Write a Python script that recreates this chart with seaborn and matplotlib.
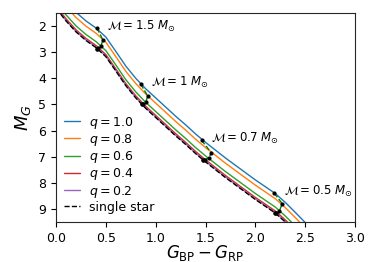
import matplotlib
matplotlib.use("Agg")
import matplotlib.pyplot as plt
import seaborn as sns
import pandas as pd

# colour grid (G_BP - G_RP)
color_grid = [0.0, 0.1, 0.2, 0.3, 0.4, 0.5, 0.6, 0.7, 0.8, 0.9, 1.0, 1.1, 1.2,
              1.3, 1.4, 1.5, 1.6, 1.7, 1.8, 1.9, 2.0, 2.1, 2.2, 2.3, 2.4, 2.5]

mg_q10 = [0.57, 1.05, 1.47, 1.80, 2.07, 2.42, 2.97, 3.53, 4.00, 4.40, 4.75, 5.10, 5.45,
          5.78, 6.13, 6.45, 6.75, 7.05, 7.33, 7.61, 7.89, 8.15, 8.41, 8.75, 9.13, 9.52]
mg_q08 = [0.77, 1.25, 1.67, 2.00, 2.27, 2.62, 3.17, 3.73, 4.20, 4.60, 4.95, 5.30, 5.65,
          5.98, 6.33, 6.65, 6.95, 7.25, 7.53, 7.81, 8.09, 8.35, 8.61, 8.95, 9.33, 9.72]
mg_q06 = [1.09, 1.57, 1.99, 2.32, 2.59, 2.94, 3.49, 4.05, 4.52, 4.92, 5.27, 5.62, 5.97,
          6.30, 6.65, 6.97, 7.27, 7.57, 7.85, 8.13, 8.41, 8.67, 8.93, 9.27, 9.65, 10.04]
mg_q04 = [1.24, 1.72, 2.14, 2.47, 2.74, 3.09, 3.64, 4.20, 4.67, 5.07, 5.42, 5.77, 6.12,
          6.45, 6.80, 7.12, 7.42, 7.72, 8.00, 8.28, 8.56, 8.82, 9.08, 9.42, 9.80, 10.19]
mg_q02 = [1.30, 1.78, 2.20, 2.53, 2.80, 3.15, 3.70, 4.26, 4.73, 5.13, 5.48, 5.83, 6.18,
          6.51, 6.86, 7.18, 7.48, 7.78, 8.06, 8.34, 8.62, 8.88, 9.14, 9.48, 9.86, 10.25]
mg_single = [1.32, 1.80, 2.22, 2.55, 2.82, 3.17, 3.72, 4.28, 4.75, 5.15, 5.50, 5.85, 6.20,
             6.53, 6.88, 7.20, 7.50, 7.80, 8.08, 8.36, 8.64, 8.90, 9.16, 9.50, 9.88, 10.27]

q_labels = ["$q = 1.0$", "$q = 0.8$", "$q = 0.6$", "$q = 0.4$", "$q = 0.2$"]

# constant-primary-mass loci (q = 1.0, 0.8, 0.6, 0.4, 0.2, single)
mass_labels = [r"$\mathcal{M} = 1.5\ M_{\odot}$", r"$\mathcal{M} = 1\ M_{\odot}$",
               r"$\mathcal{M} = 0.7\ M_{\odot}$", r"$\mathcal{M} = 0.5\ M_{\odot}$"]
locus_x_15 = [0.41, 0.47, 0.45, 0.42, 0.41, 0.41]
locus_y_15 = [2.07, 2.53, 2.76, 2.83, 2.86, 2.87]
locus_x_10 = [0.85, 0.92, 0.90, 0.87, 0.86, 0.86]
locus_y_10 = [4.22, 4.68, 4.91, 4.97, 4.99, 5.00]
locus_x_07 = [1.46, 1.56, 1.53, 1.49, 1.47, 1.47]
locus_y_07 = [6.37, 6.86, 7.06, 7.11, 7.13, 7.14]
locus_x_05 = [2.19, 2.27, 2.24, 2.21, 2.20, 2.20]
locus_y_05 = [8.40, 8.80, 9.10, 9.15, 9.16, 9.17]

sns.set_style("ticks")
plt.rcParams['font.family'] = ['DejaVu Sans']
plt.rcParams['mathtext.fontset'] = 'dejavusans'
plt.rcParams['text.color'] = 'black'
plt.rcParams['axes.labelcolor'] = 'black'
plt.rcParams['xtick.color'] = 'black'
plt.rcParams['ytick.color'] = 'black'

fig = plt.figure(figsize=(3.74, 2.62), dpi=100)
ax = fig.add_axes([0.150, 0.153, 0.799, 0.797])

palette = sns.color_palette("tab10")
series = [mg_q10, mg_q08, mg_q06, mg_q04, mg_q02]
for i, (ys, lab) in enumerate(zip(series, q_labels)):
    df = pd.DataFrame({"x": color_grid, "y": ys})
    sns.lineplot(data=df, x="x", y="y", sort=False, estimator=None, ax=ax,
                 color=palette[i], lw=1.0, label=lab)
df = pd.DataFrame({"x": color_grid, "y": mg_single})
sns.lineplot(data=df, x="x", y="y", sort=False, estimator=None, ax=ax,
             color="black", lw=1.0, linestyle="--", label="single star")

loci = [(locus_x_15, locus_y_15), (locus_x_10, locus_y_10),
        (locus_x_07, locus_y_07), (locus_x_05, locus_y_05)]
for (lx, ly), mlab in zip(loci, mass_labels):
    d = pd.DataFrame({"x": lx, "y": ly})
    sns.lineplot(data=d, x="x", y="y", sort=False, estimator=None, ax=ax,
                 color="green", lw=1.0, linestyle="--", legend=False)
    sns.scatterplot(data=d, x="x", y="y", ax=ax, color="black", s=9,
                    linewidth=0, zorder=5, legend=False)
    ax.text(lx[0] + 0.1, ly[0] - 0.05, mlab, fontsize=8.5, va="center", ha="left")

ax.set_xlim(0.0, 3.0)
ax.set_ylim(9.5, 1.5)
ax.set_xticks([0.0, 0.5, 1.0, 1.5, 2.0, 2.5, 3.0])
ax.set_yticks([2, 3, 4, 5, 6, 7, 8, 9])
ax.tick_params(labelsize=9, length=3.5, width=0.8)
ax.set_xlabel(r"$G_{\rm BP} - G_{\rm RP}$", fontsize=12, labelpad=-1)
ax.set_ylabel(r"$M_G$", fontsize=13, labelpad=4)
for s in ax.spines.values():
    s.set_visible(True)
    s.set_linewidth(0.8)
    s.set_color("#262626")

ax.legend(loc="lower left", frameon=False, fontsize=9, handlelength=1.3,
          handletextpad=0.7, labelspacing=0.1, borderaxespad=0.25)

fig.savefig("out.png", dpi=100)
